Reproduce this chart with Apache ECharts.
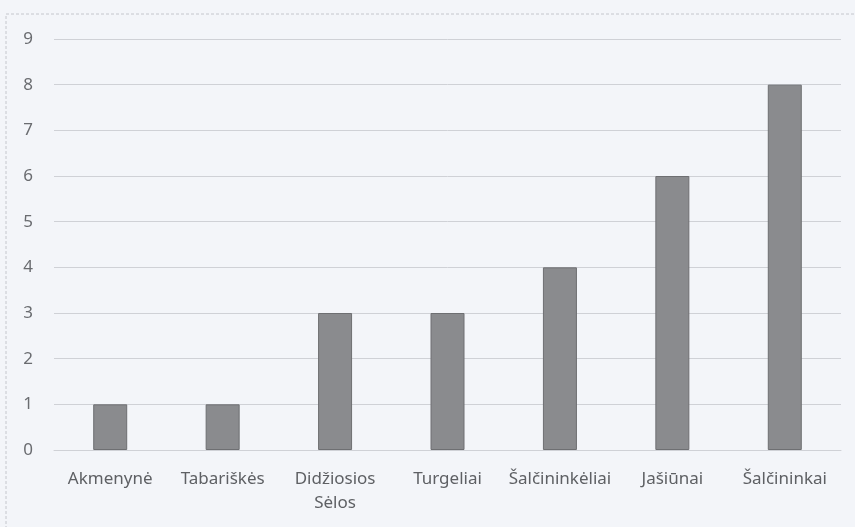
<!DOCTYPE html>
<html><head><meta charset="utf-8">
<script src="https://cdn.jsdelivr.net/npm/echarts@6/dist/echarts.min.js"></script>
<style>html,body{margin:0;padding:0;background:#f3f5f9;}#c{width:855px;height:527px;}</style>
</head><body><div id="c"></div>
<script>
const categories = ['Akmenynė', 'Tabariškės', 'Didžiosios\nSėlos', 'Turgeliai', 'Šalčininkėliai', 'Jašiūnai', 'Šalčininkai'];
const values = [1, 1, 3, 3, 4, 6, 8];
const yTicks = [0, 1, 2, 3, 4, 5, 6, 7, 8, 9];

const chart = echarts.init(document.getElementById('c'), null, {renderer: 'canvas'});
chart.setOption({
  backgroundColor: '#f3f5f9',
  animation: false,
  graphic: [{
    type: 'rect', shape: {x: 6, y: 14, width: 860, height: 530},
    style: {fill: 'none', stroke: '#c4c6cc', lineWidth: 1, lineDash: [3, 2]}
  }],
  grid: {left: 54, right: 14, top: 39, bottom: 77, containLabel: false},
  xAxis: {
    type: 'category', data: categories,
    axisLine: {show: true, lineStyle: {color: '#cfd1d6'}},
    axisTick: {show: false},
    axisLabel: {color: '#5e6064', fontFamily: 'Noto Sans', fontSize: 17, lineHeight: 24, margin: 17, interval: 0}
  },
  yAxis: {
    type: 'value', min: 0, max: 9, interval: 1,
    axisLine: {show: false}, axisTick: {show: false},
    axisLabel: {color: '#6a6c70', fontFamily: 'Noto Sans', fontSize: 17, margin: 21,
      formatter: v => yTicks.includes(v) ? String(v) : ''},
    splitLine: {lineStyle: {color: '#cfd1d6', width: 1}}
  },
  series: [{
    type: 'bar', data: values, barWidth: 34,
    itemStyle: {color: '#8a8b8e', borderColor: '#6e6f72', borderWidth: 1}
  }]
});
</script></body></html>
